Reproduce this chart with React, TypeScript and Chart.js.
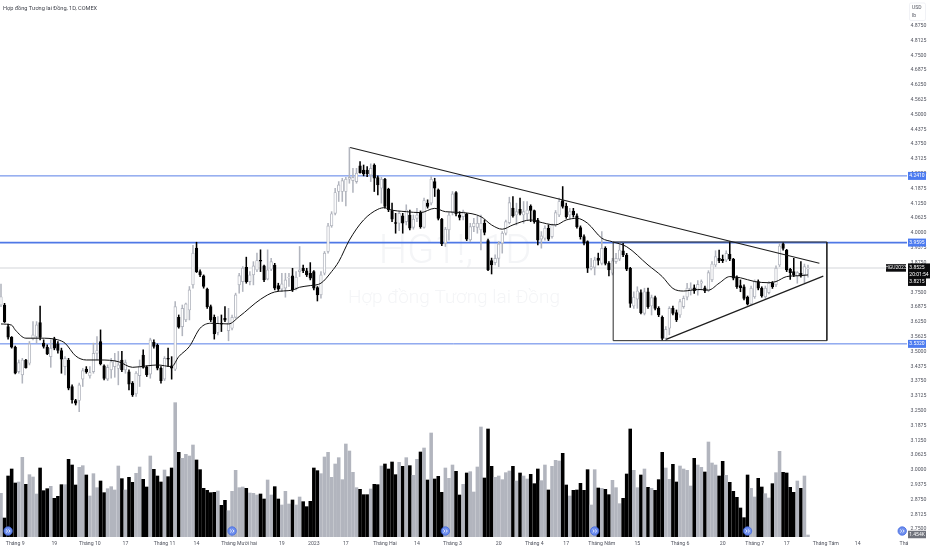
import React, { useEffect, useRef } from "react";
import { Chart, registerables } from "chart.js";

Chart.register(...registerables);

const opens = [
  3.696,3.696,3.605,3.560,3.518,3.415,3.401,3.464,3.450,3.553,
  3.563,3.622,3.535,3.518,3.478,3.553,3.532,3.504,3.436,3.464,
  3.352,3.293,3.293,3.383,3.426,3.397,3.415,3.492,3.542,3.439,
  3.383,3.422,3.436,3.428,3.464,3.422,3.414,3.366,3.321,3.398,
  3.485,3.433,3.404,3.539,3.526,3.429,3.383,3.471,3.439,3.425,
  3.644,3.605,3.633,3.675,3.781,3.936,3.837,3.819,3.763,3.689,
  3.644,3.580,3.619,3.640,3.588,3.598,3.644,3.781,3.795,3.855,
  3.795,3.823,3.844,3.885,3.861,3.805,3.847,3.865,3.778,3.763,
  3.767,3.810,3.819,3.767,3.837,3.851,3.840,3.830,3.837,3.770,
  3.739,3.830,3.922,4.030,4.083,4.175,4.175,4.175,4.227,4.221,
  4.217,4.283,4.266,4.266,4.245,4.287,4.234,4.189,4.227,4.185,
  4.095,4.044,4.041,4.072,4.048,4.076,4.024,4.062,4.086,4.024,
  4.126,4.126,4.217,4.182,4.058,3.957,4.013,4.086,4.171,4.076,
  4.069,4.081,3.971,4.027,4.024,4.013,4.041,3.968,3.884,3.875,
  3.893,3.957,3.999,4.044,4.105,4.076,4.100,4.076,4.081,4.114,
  4.095,4.055,3.974,3.978,4.020,3.985,4.034,4.076,4.137,4.114,
  4.076,4.093,4.072,4.023,3.985,3.964,3.850,3.855,3.894,3.872,
  3.935,3.872,3.830,3.879,3.890,3.925,3.907,3.851,3.692,3.721,
  3.748,3.661,3.752,3.692,3.727,3.682,3.644,3.555,3.598,3.682,
  3.664,3.654,3.689,3.729,3.757,3.769,3.757,3.788,3.769,3.757,
  3.802,3.865,3.893,3.889,3.886,3.910,3.890,3.813,3.778,3.773,
  3.729,3.700,3.731,3.795,3.767,3.731,3.748,3.788,3.781,3.865,
  3.954,3.928,3.847,3.837,3.819,3.830,3.823,3.848,
];

const highs = [
  3.784,3.703,3.616,3.563,3.523,3.464,3.471,3.467,3.542,3.626,
  3.626,3.692,3.549,3.528,3.549,3.560,3.542,3.514,3.478,3.471,
  3.359,3.298,3.366,3.429,3.436,3.436,3.535,3.563,3.591,3.443,
  3.443,3.471,3.492,3.500,3.500,3.464,3.422,3.373,3.415,3.464,
  3.507,3.439,3.556,3.549,3.532,3.436,3.478,3.514,3.478,3.711,
  3.654,3.696,3.704,3.774,3.948,3.961,3.844,3.823,3.767,3.696,
  3.654,3.647,3.654,3.689,3.682,3.654,3.746,3.830,3.858,3.898,
  3.837,3.879,3.915,3.929,3.865,3.929,3.893,3.872,3.788,3.830,
  3.830,3.830,3.851,3.837,3.943,3.865,3.851,3.875,3.841,3.774,
  3.837,3.922,4.041,4.090,4.189,4.217,4.231,4.235,4.361,4.273,
  4.273,4.301,4.287,4.280,4.292,4.292,4.241,4.235,4.231,4.189,
  4.126,4.083,4.090,4.083,4.119,4.097,4.076,4.104,4.093,4.147,
  4.140,4.238,4.231,4.186,4.062,4.024,4.086,4.175,4.175,4.090,
  4.097,4.083,4.041,4.062,4.072,4.076,4.055,3.974,3.894,3.908,
  3.964,4.006,4.055,4.151,4.154,4.126,4.147,4.133,4.133,4.119,
  4.097,4.062,4.006,4.030,4.034,4.038,4.095,4.147,4.196,4.126,
  4.104,4.104,4.081,4.030,3.992,3.967,3.893,3.898,3.915,4.006,
  3.942,3.879,3.893,3.914,3.959,3.956,3.914,3.855,3.752,3.773,
  3.760,3.767,3.767,3.738,3.734,3.689,3.650,3.605,3.689,3.692,
  3.675,3.720,3.734,3.788,3.790,3.781,3.799,3.802,3.776,3.841,
  3.879,3.925,3.928,3.907,3.925,3.963,3.893,3.819,3.802,3.781,
  3.734,3.776,3.802,3.802,3.773,3.776,3.795,3.795,3.861,3.956,
  3.959,3.931,3.851,3.893,3.837,3.879,3.869,3.865,
];

const lows = [
  3.689,3.622,3.552,3.514,3.405,3.408,3.366,3.429,3.443,3.549,
  3.535,3.549,3.514,3.486,3.433,3.507,3.493,3.408,3.401,3.338,
  3.282,3.274,3.246,3.352,3.408,3.387,3.408,3.464,3.443,3.380,
  3.377,3.387,3.391,3.359,3.415,3.408,3.338,3.310,3.310,3.352,
  3.429,3.394,3.387,3.514,3.422,3.366,3.377,3.436,3.383,3.419,
  3.598,3.566,3.626,3.633,3.767,3.833,3.816,3.767,3.682,3.626,
  3.552,3.570,3.584,3.626,3.545,3.591,3.640,3.746,3.753,3.788,
  3.781,3.781,3.837,3.837,3.795,3.802,3.841,3.760,3.757,3.753,
  3.729,3.774,3.753,3.760,3.816,3.833,3.816,3.802,3.760,3.713,
  3.725,3.823,3.915,4.024,4.076,4.133,4.133,4.114,4.210,4.171,
  4.210,4.252,4.241,4.238,4.217,4.175,4.161,4.126,4.105,4.090,
  4.048,3.999,4.010,3.999,4.034,4.013,4.016,4.048,4.020,4.020,
  4.105,4.119,4.154,4.055,3.946,3.943,3.970,4.076,4.072,4.055,
  4.055,3.968,3.964,4.006,3.999,3.929,3.992,3.841,3.827,3.865,
  3.858,3.915,3.992,4.038,4.067,4.034,4.076,4.041,4.055,4.048,
  4.041,3.950,3.936,3.970,3.968,3.978,4.027,4.069,4.105,4.062,
  4.062,4.067,4.020,3.974,3.950,3.833,3.844,3.823,3.865,3.865,
  3.865,3.819,3.823,3.872,3.883,3.900,3.841,3.686,3.682,3.682,
  3.658,3.654,3.682,3.654,3.675,3.647,3.548,3.546,3.570,3.654,
  3.626,3.644,3.682,3.717,3.738,3.745,3.738,3.760,3.748,3.752,
  3.795,3.858,3.875,3.875,3.879,3.883,3.802,3.766,3.752,3.717,
  3.696,3.696,3.724,3.760,3.729,3.724,3.743,3.766,3.773,3.858,
  3.928,3.837,3.804,3.816,3.788,3.813,3.790,3.813,
];

const closes = [
  3.731,3.626,3.560,3.518,3.408,3.453,3.464,3.432,3.532,3.570,
  3.612,3.559,3.521,3.490,3.514,3.514,3.504,3.467,3.471,3.345,
  3.296,3.282,3.359,3.419,3.414,3.411,3.492,3.504,3.447,3.386,
  3.433,3.457,3.462,3.443,3.422,3.453,3.362,3.317,3.408,3.436,
  3.433,3.401,3.549,3.521,3.429,3.377,3.471,3.467,3.429,3.689,
  3.602,3.682,3.701,3.760,3.915,3.837,3.823,3.774,3.689,3.633,
  3.574,3.619,3.615,3.632,3.619,3.644,3.739,3.820,3.851,3.795,
  3.823,3.861,3.884,3.881,3.802,3.844,3.879,3.767,3.763,3.785,
  3.802,3.813,3.760,3.813,3.844,3.841,3.823,3.809,3.767,3.739,
  3.823,3.915,4.030,4.081,4.171,4.203,4.221,4.227,4.235,4.235,
  4.252,4.255,4.249,4.249,4.273,4.231,4.203,4.227,4.112,4.097,
  4.058,4.040,4.083,4.041,4.097,4.020,4.058,4.076,4.027,4.137,
  4.112,4.227,4.189,4.062,3.954,4.016,4.076,4.165,4.081,4.066,
  4.090,3.974,4.027,4.041,4.041,4.041,4.002,3.844,3.865,3.893,
  3.954,3.999,4.048,4.128,4.072,4.090,4.083,4.090,4.097,4.095,
  4.048,3.970,3.988,4.020,3.974,4.034,4.086,4.133,4.112,4.069,
  4.090,4.076,4.027,3.985,3.957,3.851,3.858,3.886,3.884,3.935,
  3.872,3.844,3.883,3.893,3.928,3.907,3.847,3.703,3.729,3.755,
  3.664,3.752,3.689,3.727,3.682,3.654,3.555,3.593,3.682,3.661,
  3.633,3.710,3.724,3.767,3.767,3.757,3.783,3.795,3.755,3.833,
  3.869,3.900,3.883,3.883,3.914,3.889,3.809,3.773,3.769,3.724,
  3.700,3.767,3.795,3.767,3.734,3.767,3.788,3.773,3.851,3.945,
  3.935,3.844,3.833,3.823,3.833,3.819,3.858,3.851,
];

const volumes = [
  130,56,182,203,161,164,238,157,186,179,
  128,206,138,144,151,115,121,156,156,232,
  215,155,208,213,185,122,189,147,167,132,
  144,150,140,212,174,140,178,163,190,209,
  172,149,242,202,182,164,200,180,206,402,
  253,235,247,242,275,230,201,145,139,132,
  133,137,94,109,78,136,199,147,149,145,
  131,130,125,128,113,170,125,150,113,95,
  136,98,110,95,119,105,90,106,206,198,
  189,239,253,178,218,237,171,278,257,193,
  147,142,126,126,143,157,156,212,218,203,
  224,186,223,211,237,213,184,232,254,266,
  170,311,173,181,133,206,175,215,196,125,
  157,191,195,134,209,329,176,323,211,178,
  182,171,192,197,211,167,191,182,173,187,
  159,203,168,215,140,211,229,227,250,155,
  122,139,140,160,139,201,95,201,146,145,
  142,126,169,147,99,115,188,323,199,147,
  185,203,148,145,139,171,253,206,172,217,
  164,212,203,199,152,235,215,208,194,284,
  221,215,182,226,184,163,136,118,86,57,
  185,145,119,175,149,129,116,159,192,256,
  193,191,148,133,167,145,182,5,
];

const maBars = [
  0,3,4,7,11,16,18,21,24,28,33,37,41,44,48,50,53,56,59,64,67,73,77,82,84,87,90,93,95,98,
  102,106,108,109,114,118,122,125,130,135,138,141,144,149,151,156,159,162,165,169,172,176,
  182,186,189,192,196,199,202,205,208,212,216,218,221,225,227,
];
const maValues = [
  3.616,3.611,3.591,3.556,3.556,3.549,3.535,3.481,3.464,3.464,3.457,3.433,3.439,3.443,3.436,3.478,3.521,3.598,3.619,3.616,3.647,3.720,3.751,3.759,3.771,3.778,3.788,3.837,3.879,3.970,
  4.055,4.100,4.107,4.100,4.090,4.086,4.104,4.090,4.086,4.069,4.034,4.016,4.034,4.055,4.048,4.034,4.055,4.062,4.041,3.978,3.963,3.942,
  3.865,3.816,3.766,3.755,3.762,3.759,3.788,3.816,3.811,3.795,3.790,3.795,3.816,3.820,3.823,
];

const levels = [4.241, 3.9595, 3.532];
const levelLabels = ["4.2410", "3.9595", "3.5320"];
const lastPrice = 3.8525;
const secondPrice = 3.8215;
const countdown = "20:01:54";
const contract = "HGU2023";
const volumeLabel = "1.454K";

const downTrendBars = [98.2, 230.2];
const downTrendPrices = [4.361, 3.872];
const upTrendBars = [187.1, 231.3];
const upTrendPrices = [3.551, 3.818];
const boxBars = [172.2, 232.3, 232.3, 172.2, 172.2];
const boxPrices = [3.962, 3.962, 3.5455, 3.5455, 3.962];

const rollBars = [2, 65, 125, 167, 210, 253.5];
const rollPrice = 2.742;

const tickBars = [4,15,25,35,46,55,67,79,88,97,108,117,127,140,150,159,169,179,191,203,212,221,232,241,254];
const tickLabels = [
  "Tháng 9","19","Tháng 10","17","Tháng 11","14","Tháng Mười hai","19","2023","17","Tháng Hai","14",
  "Tháng 3","20","Tháng 4","17","Tháng Năm","15","Tháng 6","20","Tháng 7","17","Tháng Tám","14","Thá",
];
const priceTicks = [
  4.875,4.8125,4.75,4.6875,4.625,4.5625,4.5,4.4375,4.375,4.3125,4.25,4.1875,4.125,4.0625,4,3.9375,3.875,3.8125,
  3.75,3.6875,3.625,3.5625,3.5,3.4375,3.375,3.3125,3.25,3.1875,3.125,3.0625,3,2.9375,2.875,2.8125,2.75,
];

const FONT = "Roboto";
const GREY = "#b2b5be";
const BLACK = "#000000";
const BLUE = "#4f78e6";
const TEXT = "#50535e";

const annotations = {
  id: "annotations",
  beforeDatasetsDraw(chart: any) {
    const { ctx } = chart;
    ctx.save();
    ctx.textAlign = "center";
    ctx.fillStyle = "#f4f5f7";
    ctx.font = `300 40px ${FONT}`;
    ctx.fillText("HG1!, 1D", 455, 263);
    ctx.font = `300 19px ${FONT}`;
    ctx.fillText("Hợp đồng Tương lai Đồng", 454, 303);
    ctx.restore();
  },
  afterDraw(chart: any) {
    const { ctx, scales } = chart;
    const y = scales.y;
    const tag = (text: string, py: number, bg: string, left = 908, w = 18, h = 8, color = "#ffffff") => {
      ctx.fillStyle = bg;
      ctx.fillRect(left, py - h / 2, w, h);
      ctx.fillStyle = color;
      ctx.textAlign = "center";
      ctx.textBaseline = "middle";
      ctx.font = `5px ${FONT}`;
      ctx.fillText(text, left + w / 2, py + 0.3);
    };
    ctx.save();
    // title
    ctx.fillStyle = "#3c3f48";
    ctx.textAlign = "left";
    ctx.textBaseline = "middle";
    ctx.font = `5.6px ${FONT}`;
    ctx.fillText("Hợp đồng Tương lai Đồng, 1D, COMEX", 3, 8.5);
    // currency box
    ctx.fillStyle = "#ffffff";
    ctx.strokeStyle = "#e8eaf0";
    ctx.lineWidth = 0.6;
    ctx.beginPath();
    ctx.roundRect(909.5, 3, 16, 17.5, 1.5);
    ctx.fill();
    ctx.stroke();
    ctx.fillStyle = TEXT;
    ctx.textAlign = "left";
    ctx.font = `5px ${FONT}`;
    ctx.fillText("USD", 912, 7.5);
    ctx.fillText("lb", 912, 15.5);
    // level tags
    levels.forEach((lv, k) => tag(levelLabels[k], y.getPixelForValue(lv), "#4c7bf0"));
    // current price stack
    const py = y.getPixelForValue(lastPrice);
    tag(contract, py, "#0b0b0d", 886, 20, 7.5);
    ctx.fillStyle = "#0b0b0d";
    ctx.fillRect(908, py - 4.5, 22, 10.5);
    tag(lastPrice.toFixed(4), py, "#0b0b0d", 908, 18, 8);
    tag(countdown, py + 7, "#0b0b0d", 908, 22, 7);
    tag(secondPrice.toFixed(4), py + 14, "#0b0b0d", 908, 18, 8);
    tag(volumeLabel, 534.5, "#6f727b", 908, 18, 7.5);
    // roll-over icons
    ctx.strokeStyle = "#ffffff";
    ctx.lineWidth = 0.8;
    rollBars.forEach((b) => {
      const cx = scales.x.getPixelForValue(b);
      const cy = y.getPixelForValue(rollPrice);
      ctx.beginPath();
      ctx.moveTo(cx - 2, cy - 1.5);
      ctx.lineTo(cx - 0.4, cy);
      ctx.lineTo(cx - 2, cy + 1.5);
      ctx.moveTo(cx + 0.4, cy - 1.5);
      ctx.lineTo(cx + 2, cy);
      ctx.lineTo(cx + 0.4, cy + 1.5);
      ctx.stroke();
    });
    ctx.restore();
  },
};

const noPadding = (s: any) => {
  s.paddingLeft = 0;
  s.paddingRight = 0;
  s.paddingTop = 0;
  s.paddingBottom = 0;
};

export default function App() {
  const ref = useRef<HTMLCanvasElement | null>(null);
  useEffect(() => {
    if (!ref.current) return;
    const bars = opens.map((_, i) => i);
    const up = (i: number) => closes[i] >= opens[i];
    const line = (xs: number[], ys: number[], color: string, width: number, order: number, extra: any = {}) => ({
      type: "line",
      data: xs.map((x, i) => ({ x, y: ys[i] })),
      borderColor: color,
      borderWidth: width,
      pointRadius: 0,
      yAxisID: "y",
      order,
      ...extra,
    });
    const chart = new Chart(ref.current, {
      type: "bar",
      data: {
        datasets: [
          {
            type: "bar",
            label: "Volume",
            data: bars.map((i) => ({ x: i, y: volumes[i] })),
            backgroundColor: bars.map((i) => (up(i) ? GREY : BLACK)),
            barThickness: 2.9,
            grouped: false,
            yAxisID: "yVol",
            order: 9,
          },
          line([-1, 255], [lastPrice, lastPrice], "#e2e3e6", 1.6, 8),
          ...levels.map((lv, k) =>
            line([-1, 255], [lv, lv], BLUE, k === 1 ? 1.6 : 0.95, 7),
          ),
          {
            type: "bar",
            label: "Wicks",
            data: bars.map((i) => ({ x: i, y: [lows[i], highs[i]] })),
            backgroundColor: bars.map((i) => (up(i) ? GREY : BLACK)),
            barThickness: 0.9,
            grouped: false,
            yAxisID: "y",
            order: 5,
          },
          {
            type: "bar",
            label: "Bodies",
            data: bars.map((i) => ({ x: i, y: [opens[i], closes[i]] })),
            backgroundColor: bars.map((i) => (up(i) ? "#ffffff" : BLACK)),
            borderColor: bars.map((i) => (up(i) ? GREY : BLACK)),
            borderWidth: 0.9,
            borderSkipped: false,
            barThickness: 2.7,
            grouped: false,
            yAxisID: "y",
            order: 4,
          },
          line(maBars, maValues, "#101010", 1, 3, { cubicInterpolationMode: "monotone" }),
          line(downTrendBars, downTrendPrices, "#1e1e1e", 1.1, 2),
          line(upTrendBars, upTrendPrices, "#1e1e1e", 1.2, 2),
          line(boxBars, boxPrices, "#2a2a2a", 1, 2),
          {
            type: "scatter",
            data: rollBars.map((x) => ({ x, y: rollPrice })),
            backgroundColor: "#6f8fee",
            borderColor: "#3f66de",
            borderWidth: 0.8,
            pointRadius: 4.2,
            yAxisID: "y",
            order: 1,
          },
        ] as any,
      },
      options: {
        responsive: false,
        animation: false,
        layout: { padding: 0, autoPadding: false },
        plugins: { legend: { display: false }, tooltip: { enabled: false }, title: { display: false } },
        scales: {
          x: {
            type: "linear",
            offset: false,
            min: -0.28,
            max: 254.85,
            grid: { display: false, drawTicks: false },
            border: { display: false },
            afterBuildTicks(s: any) {
              s.ticks = tickBars.map((value) => ({ value }));
            },
            afterFit(s: any) {
              s.height = 11;
              noPadding(s);
            },
            ticks: {
              autoSkip: false,
              maxRotation: 0,
              padding: 1.5,
              color: TEXT,
              font: { family: FONT, size: 5.2 },
              callback: (_v: any, i: number) => tickLabels[i],
            },
          },
          y: {
            type: "linear",
            position: "right",
            min: 2.7083,
            max: 4.9835,
            grid: { display: false, drawTicks: false },
            border: { display: false },
            afterBuildTicks(s: any) {
              s.ticks = priceTicks.map((value) => ({ value }));
            },
            afterFit(s: any) {
              s.width = 25;
              noPadding(s);
            },
            ticks: {
              autoSkip: false,
              padding: 3.5,
              color: TEXT,
              font: { family: FONT, size: 5.2 },
              callback: (v: any) => Number(v).toFixed(4),
            },
          },
          yVol: { type: "linear", display: false, min: -7, max: 1610 },
        },
      } as any,
      plugins: [annotations],
    });
    return () => chart.destroy();
  }, []);
  return (
    <div style={{ position: "fixed", left: 0, top: 0, width: 932, height: 550, background: "#ffffff" }}>
      <canvas ref={ref} width={932} height={550} style={{ display: "block" }} />
    </div>
  );
}
